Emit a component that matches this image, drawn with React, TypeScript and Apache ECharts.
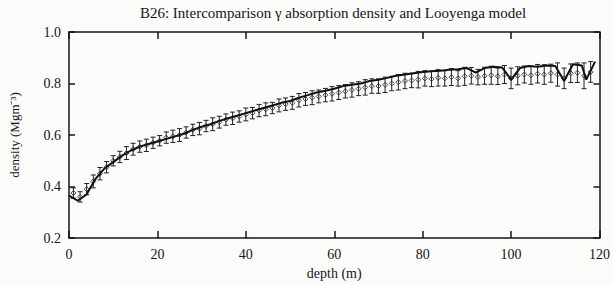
import React, { useEffect, useRef } from "react";
import * as echarts from "echarts";

const titleText = "B26: Intercomparison \u03b3 absorption density and Looyenga model";
const xTicks = [0, 20, 40, 60, 80, 100, 120];
const yTicks = [0.2, 0.4, 0.6, 0.8, 1.0];

// Looyenga model / thick line
const lineDepth = [0, 2, 4, 6, 8, 10, 12, 14, 16, 18, 20, 22, 24, 26, 28, 30, 32, 34, 36, 38, 40, 42, 44, 46, 48, 50, 52, 54, 56, 58, 60, 62, 64, 66, 68, 70, 72, 74, 76, 78, 80, 82, 84, 86, 88, 90, 92, 94, 96, 98, 100, 102, 104, 106, 108, 110, 112, 114, 116, 117, 119];
const lineDensity = [0.365, 0.345, 0.37, 0.43, 0.47, 0.495, 0.52, 0.54, 0.555, 0.565, 0.575, 0.585, 0.595, 0.605, 0.62, 0.632, 0.642, 0.655, 0.665, 0.675, 0.685, 0.695, 0.705, 0.715, 0.725, 0.732, 0.745, 0.755, 0.765, 0.772, 0.78, 0.79, 0.795, 0.8, 0.81, 0.815, 0.822, 0.83, 0.835, 0.84, 0.845, 0.848, 0.85, 0.853, 0.855, 0.86, 0.842, 0.86, 0.865, 0.862, 0.815, 0.86, 0.868, 0.865, 0.87, 0.868, 0.81, 0.875, 0.87, 0.815, 0.885];

// gamma absorption density points with error bars
const pointDepth = [1, 2.5, 4, 5.5, 7, 8.5, 10, 11.5, 13, 14.5, 16, 17.5, 19, 20.5, 22, 23.5, 25, 26.5, 28, 29.5, 31, 32.5, 34, 35.5, 37, 38.5, 40, 41.5, 43, 44.5, 46, 47.5, 49, 50.5, 52, 53.5, 55, 56.5, 58, 59.5, 61, 62.5, 64, 65.5, 67, 68.5, 70, 71.5, 73, 74.5, 76, 77.5, 79, 80.5, 82, 83.5, 85, 86.5, 88, 89.5, 91, 92.5, 94, 95.5, 97, 98.5, 100, 101.5, 103, 104.5, 106, 107.5, 109, 110.5, 112, 113.5, 115, 116.5, 118];
const pointDensity = [0.375, 0.36, 0.39, 0.42, 0.45, 0.475, 0.5, 0.515, 0.53, 0.545, 0.555, 0.56, 0.57, 0.578, 0.59, 0.595, 0.6, 0.61, 0.62, 0.625, 0.635, 0.642, 0.65, 0.66, 0.665, 0.672, 0.68, 0.685, 0.695, 0.7, 0.705, 0.715, 0.72, 0.725, 0.735, 0.74, 0.745, 0.75, 0.755, 0.76, 0.765, 0.77, 0.775, 0.78, 0.785, 0.79, 0.79, 0.795, 0.8, 0.805, 0.81, 0.812, 0.815, 0.82, 0.818, 0.822, 0.82, 0.825, 0.82, 0.828, 0.83, 0.825, 0.83, 0.832, 0.828, 0.835, 0.82, 0.83, 0.835, 0.832, 0.838, 0.835, 0.84, 0.835, 0.82, 0.84, 0.842, 0.83, 0.845];
const pointError = [0.02, 0.02, 0.022, 0.025, 0.024, 0.022, 0.02, 0.022, 0.025, 0.023, 0.022, 0.024, 0.022, 0.02, 0.022, 0.024, 0.025, 0.022, 0.022, 0.024, 0.022, 0.025, 0.023, 0.022, 0.024, 0.022, 0.025, 0.022, 0.024, 0.025, 0.022, 0.025, 0.024, 0.025, 0.026, 0.025, 0.027, 0.025, 0.026, 0.028, 0.027, 0.026, 0.028, 0.027, 0.03, 0.028, 0.028, 0.03, 0.028, 0.03, 0.03, 0.028, 0.032, 0.03, 0.03, 0.032, 0.03, 0.033, 0.03, 0.035, 0.032, 0.03, 0.033, 0.035, 0.032, 0.035, 0.04, 0.035, 0.033, 0.035, 0.036, 0.038, 0.035, 0.045, 0.04, 0.036, 0.038, 0.05, 0.04];

const FONT = "Liberation Serif";
const INK = "#151515";

export default function App() {
  const ref = useRef<HTMLDivElement>(null);
  useEffect(() => {
    if (!ref.current) return;
    const chart = echarts.init(ref.current, null, { renderer: "svg" });
    const lineData = lineDepth.map((d, i) => [d, lineDensity[i]]);
    const pointData = pointDepth.map((d, i) => [d, pointDensity[i]]);
    const errData = pointDepth.map((d, i) => [d, pointDensity[i] - pointError[i], pointDensity[i] + pointError[i]]);
    chart.setOption({
      animation: false,
      backgroundColor: "#fbfbfa",
      graphic: [
        {
          type: "text",
          x: 333,
          y: 13,
          style: {
            text: titleText,
            fill: INK,
            font: `15px "${FONT}"`,
            textAlign: "center",
            textVerticalAlign: "middle",
          },
        },
      ],
      grid: { left: 66, right: 13, top: 32, bottom: 38, containLabel: false },
      xAxis: [
        {
          type: "value",
          min: 0,
          max: 120,
          interval: 20,
          name: "depth (m)",
          nameLocation: "middle",
          nameGap: 22,
          nameTextStyle: { fontFamily: FONT, fontSize: 14, color: INK },
          axisLine: { show: true, onZero: false, lineStyle: { color: INK, width: 1.5 } },
          axisTick: { show: true, inside: true, length: 7, lineStyle: { color: INK, width: 1.5 } },
          axisLabel: { fontFamily: FONT, fontSize: 14, color: INK, margin: 9, showMinLabel: true, showMaxLabel: true },
          splitLine: { show: false },
        },
        {
          type: "value",
          position: "top",
          min: 0,
          max: 120,
          interval: 20,
          axisLine: { show: true, onZero: false, lineStyle: { color: INK, width: 1.5 } },
          axisTick: { show: true, inside: true, length: 7, lineStyle: { color: INK, width: 1.5 } },
          axisLabel: { show: false },
          splitLine: { show: false },
        },
      ],
      yAxis: [
        {
          type: "value",
          min: 0.2,
          max: 1.0,
          interval: 0.2,
          name: "density (Mgm\u207b\u00b3)",
          nameLocation: "middle",
          nameGap: 48,
          nameTextStyle: { fontFamily: FONT, fontSize: 13, color: INK },
          axisLine: { show: true, onZero: false, lineStyle: { color: INK, width: 1.5 } },
          axisTick: { show: true, inside: true, length: 6, lineStyle: { color: INK, width: 1.5 } },
          axisLabel: {
            fontFamily: FONT,
            fontSize: 14,
            color: INK,
            margin: 8,
            formatter: (v: number) => v.toFixed(1),
          },
          splitLine: { show: false },
        },
        {
          type: "value",
          position: "right",
          min: 0.2,
          max: 1.0,
          interval: 0.2,
          axisLine: { show: true, onZero: false, lineStyle: { color: INK, width: 1.5 } },
          axisTick: { show: true, inside: true, length: 6, lineStyle: { color: INK, width: 1.5 } },
          axisLabel: { show: false },
          splitLine: { show: false },
        },
      ],
      series: [
        {
          type: "custom",
          name: "error",
          data: errData,
          encode: { x: 0, y: [1, 2] },
          renderItem: (params: any, api: any) => {
            const x = api.value(0);
            const lo = api.coord([x, api.value(1)]);
            const hi = api.coord([x, api.value(2)]);
            const w = 2.5;
            const style = { stroke: "#222", lineWidth: 1, fill: "none" };
            return {
              type: "group",
              children: [
                { type: "line", shape: { x1: lo[0], y1: lo[1], x2: hi[0], y2: hi[1] }, style },
                { type: "line", shape: { x1: lo[0] - w, y1: lo[1], x2: lo[0] + w, y2: lo[1] }, style },
                { type: "line", shape: { x1: hi[0] - w, y1: hi[1], x2: hi[0] + w, y2: hi[1] }, style },
              ],
            };
          },
          z: 2,
        },
        {
          type: "scatter",
          name: "gamma",
          data: pointData,
          symbol: "diamond",
          symbolSize: 5,
          itemStyle: { color: "rgba(255,255,255,0)", borderColor: "#222", borderWidth: 1 },
          z: 3,
        },
        {
          type: "line",
          name: "Looyenga",
          data: lineData,
          showSymbol: false,
          symbol: "none",
          lineStyle: { color: "#111", width: 2 },
          z: 4,
        },
      ],
    });
    return () => chart.dispose();
  }, []);
  return (
    <div
      ref={ref}
      style={{ position: "fixed", left: 0, top: 0, width: 613, height: 285 }}
    />
  );
}
